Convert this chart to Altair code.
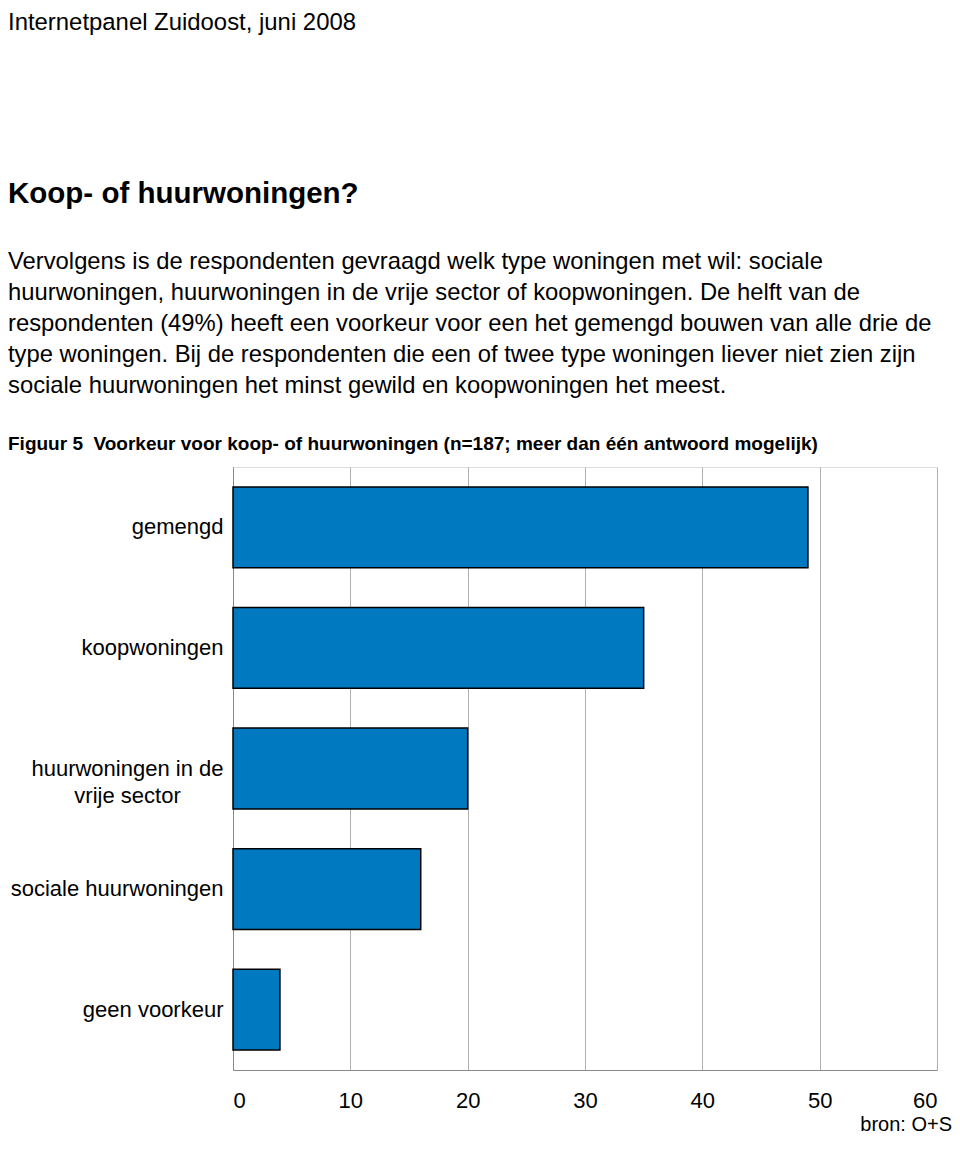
import altair as alt
import pandas as pd

categories = ["gemengd", "koopwoningen", "huurwoningen in de vrije sector",
              "sociale huurwoningen", "geen voorkeur"]
values = [49, 35, 20, 16, 4]
x_ticks = [0, 10, 20, 30, 40, 50, 60]

page_title = "Internetpanel Zuidoost, juni 2008"
heading = "Koop- of huurwoningen?"
paragraph = [
    "Vervolgens is de respondenten gevraagd welk type woningen met wil: sociale",
    "huurwoningen, huurwoningen in de vrije sector of koopwoningen. De helft van de",
    "respondenten (49%) heeft een voorkeur voor een het gemengd bouwen van alle drie de",
    "type woningen. Bij de respondenten die een of twee type woningen liever niet zien zijn",
    "sociale huurwoningen het minst gewild en koopwoningen het meest.",
]
caption = "Figuur 5\u00a0 Voorkeur voor koop- of huurwoningen (n=187; meer dan één antwoord mogelijk)"
source = "bron: O+S"

FONT = "Liberation Sans"
df = pd.DataFrame({"cat": categories, "val": values})

pad = "\u00a0" * 7 + "\u200b"
label_expr = (
    "datum.value == 'huurwoningen in de vrije sector' ? "
    f"['huurwoningen in de', 'vrije sector{pad}'] : datum.value"
)

bars = alt.Chart(df).mark_bar(
    color="#0079C1", stroke="#000000", strokeWidth=1.5
).encode(
    x=alt.X("val:Q", scale=alt.Scale(domain=[0, 60], nice=False),
            axis=alt.Axis(values=x_ticks, title=None, grid=True, gridColor="#b0b0b0",
                          gridWidth=1, domainColor="#888888", ticks=False,
                          labelFontSize=22, labelFont=FONT, labelColor="#000000",
                          labelPadding=20)),
    y=alt.Y("cat:N", sort=categories,
            scale=alt.Scale(paddingInner=0.33, paddingOuter=0.165),
            axis=alt.Axis(title=None, ticks=False, domainColor="#888888",
                          labelFontSize=22, labelFont=FONT, labelColor="#000000",
                          labelPadding=10, labelLimit=400, labelLineHeight=27,
                          labelExpr=label_expr)),
)

one = alt.Data(values=[{}])

def txt(text, x, y, size, bold=False, align="left", baseline="alphabetic", line_height=None):
    kw = dict(align=align, baseline=baseline, fontSize=size, font=FONT,
              fontWeight="bold" if bold else "normal", color="#000000")
    if line_height:
        kw["lineHeight"] = line_height
    return alt.Chart(one).mark_text(**kw).encode(
        text=alt.value(text), x=alt.value(x), y=alt.value(y))

layers = [
    bars,
    txt(page_title, -225, -456, 23.9, baseline="top"),
    txt(heading, -225, -264, 29.5, bold=True),
    txt(paragraph, -225, -198, 23.8, line_height=31),
    txt(caption, -225, -17, 19, bold=True),
    txt(source, 719, 664, 20, align="right"),
]

chart = alt.layer(*layers).properties(
    width=704, height=603,
    autosize=alt.AutoSizeParams(type="none"),
    padding={"left": 225, "top": 459, "right": 15, "bottom": 68},
).configure_view(stroke="#999999", strokeWidth=1).configure(background="white")

chart.save("out.html", embed_options={"renderer": "svg", "actions": False})
